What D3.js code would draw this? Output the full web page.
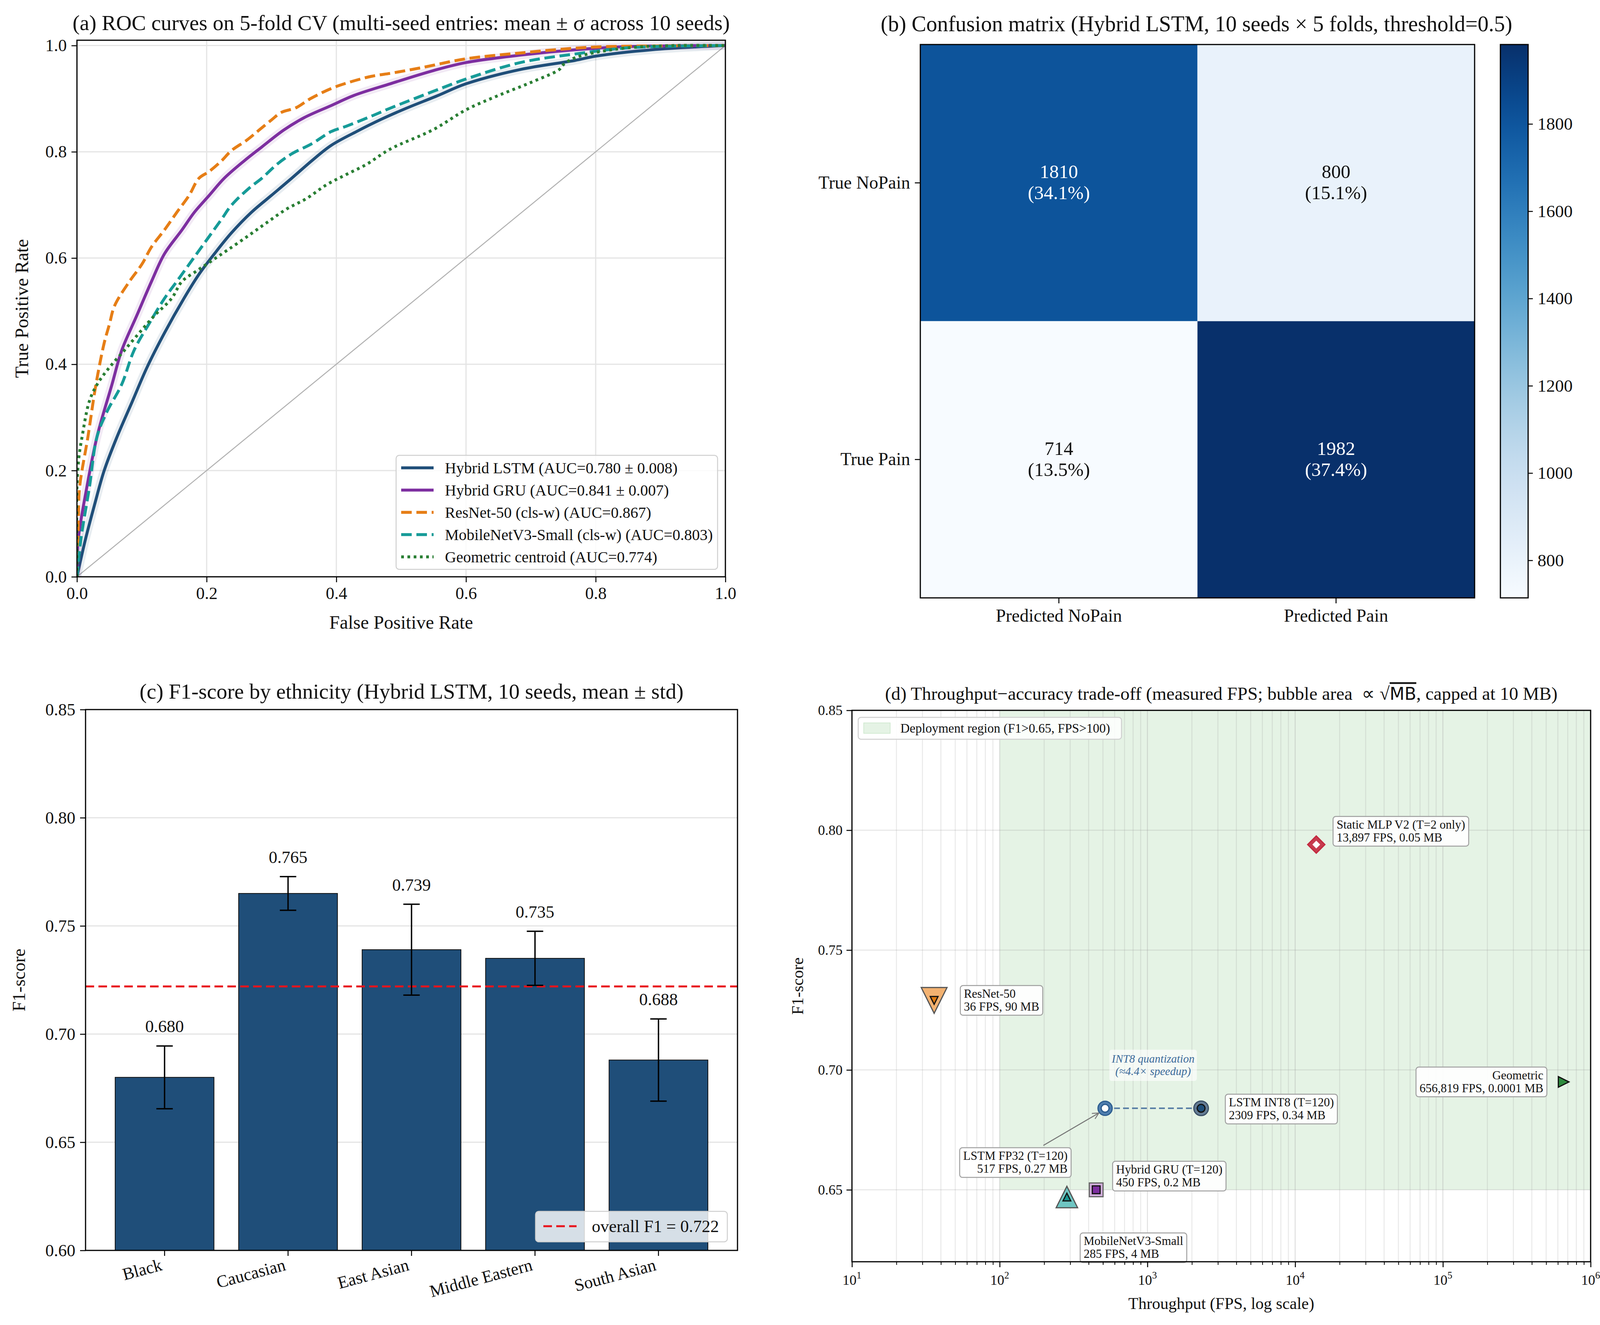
<!DOCTYPE html>
<html>
<head>
<meta charset="utf-8">
<script src="https://cdn.jsdelivr.net/npm/d3@7"></script>
<style>
  body { margin: 0; background: #fff; }
  svg { display: block; }
</style>
</head>
<body>
<div id="chart"></div>
<script>
const W = 4135, H = 3393;
const FONT = '"Liberation Serif", "Times New Roman", serif';

// ---- (a) ROC curves : points ----
const lstmFpr = [0, 0.013, 0.027, 0.042, 0.062, 0.085, 0.108, 0.135, 0.165, 0.188, 0.212, 0.238, 0.269, 0.30, 0.331, 0.362, 0.392, 0.431, 0.469, 0.508, 0.555, 0.60, 0.684, 0.768, 0.80, 0.886, 1.0];
const lstmTpr = [0, 0.07, 0.135, 0.20, 0.264, 0.329, 0.394, 0.459, 0.524, 0.569, 0.608, 0.647, 0.686, 0.718, 0.75, 0.783, 0.812, 0.838, 0.861, 0.882, 0.905, 0.928, 0.955, 0.972, 0.98, 0.992, 1.0];
const gruFpr = [0, 0.002, 0.015, 0.031, 0.054, 0.069, 0.092, 0.115, 0.135, 0.162, 0.181, 0.204, 0.227, 0.258, 0.285, 0.319, 0.35, 0.392, 0.427, 0.483, 0.55, 0.60, 0.684, 0.768, 0.852, 1.0];
const gruTpr = [0, 0.07, 0.167, 0.264, 0.362, 0.426, 0.491, 0.556, 0.608, 0.653, 0.686, 0.718, 0.75, 0.783, 0.809, 0.841, 0.864, 0.887, 0.906, 0.928, 0.953, 0.968, 0.982, 0.992, 0.998, 1.0];
const resnetFpr = [0, 0.002, 0.004, 0.017, 0.029, 0.042, 0.050, 0.058, 0.081, 0.10, 0.115, 0.135, 0.154, 0.173, 0.188, 0.204, 0.223, 0.238, 0.262, 0.281, 0.30, 0.315, 0.338, 0.36, 0.392, 0.415, 0.454, 0.485, 0.53, 0.60, 0.684, 0.768, 0.818, 1.0];
const resnetTpr = [0, 0.09, 0.167, 0.264, 0.36, 0.440, 0.475, 0.51, 0.556, 0.588, 0.621, 0.653, 0.686, 0.718, 0.75, 0.763, 0.783, 0.802, 0.822, 0.841, 0.86, 0.874, 0.883, 0.90, 0.919, 0.929, 0.942, 0.948, 0.958, 0.975, 0.986, 0.995, 0.998, 1.0];
const mobileFpr = [0, 0.006, 0.019, 0.031, 0.046, 0.069, 0.088, 0.112, 0.135, 0.154, 0.177, 0.20, 0.223, 0.238, 0.265, 0.285, 0.308, 0.331, 0.362, 0.392, 0.415, 0.454, 0.483, 0.55, 0.60, 0.684, 0.768, 0.852, 1.0];
const mobileTpr = [0, 0.07, 0.167, 0.264, 0.31, 0.362, 0.426, 0.478, 0.524, 0.556, 0.595, 0.634, 0.673, 0.699, 0.731, 0.75, 0.776, 0.796, 0.815, 0.838, 0.848, 0.867, 0.882, 0.914, 0.937, 0.968, 0.984, 0.996, 1.0];
const geoFpr = [0, 0, 0.003, 0.008, 0.019, 0.031, 0.05, 0.073, 0.096, 0.119, 0.146, 0.162, 0.185, 0.208, 0.231, 0.262, 0.292, 0.323, 0.354, 0.385, 0.415, 0.446, 0.483, 0.55, 0.60, 0.65, 0.701, 0.744, 0.751, 0.768, 0.80, 0.852, 0.92, 1.0];
const geoTpr = [0, 0.167, 0.225, 0.264, 0.33, 0.362, 0.394, 0.426, 0.459, 0.491, 0.524, 0.556, 0.576, 0.595, 0.614, 0.64, 0.666, 0.692, 0.712, 0.738, 0.757, 0.776, 0.805, 0.842, 0.879, 0.906, 0.931, 0.955, 0.965, 0.977, 0.987, 0.996, 1.0, 1.0];
const rocLabels = [
  'Hybrid LSTM (AUC=0.780 \u00b1 0.008)',
  'Hybrid GRU (AUC=0.841 \u00b1 0.007)',
  'ResNet-50 (cls-w) (AUC=0.867)',
  'MobileNetV3-Small (cls-w) (AUC=0.803)',
  'Geometric centroid (AUC=0.774)'
];
const rocTicks = [0, 0.2, 0.4, 0.6, 0.8, 1.0];

// ---- (b) confusion matrix ----
const cmRows = ['True NoPain', 'True Pain'];
const cmCols = ['Predicted NoPain', 'Predicted Pain'];
const cmCounts = [1810, 800, 714, 1982]; // row-major
const cbarTicks = [800, 1000, 1200, 1400, 1600, 1800];

// ---- (c) F1 by ethnicity ----
const ethnicities = ['Black', 'Caucasian', 'East Asian', 'Middle Eastern', 'South Asian'];
const f1Mean = [0.680, 0.765, 0.739, 0.735, 0.688];
const f1Std = [0.0145, 0.0078, 0.021, 0.0125, 0.019];
const overallF1 = 0.722;
const f1Ticks = [0.60, 0.65, 0.70, 0.75, 0.80, 0.85];

// ---- (d) throughput vs accuracy ----
const modelNames = ['ResNet-50', 'MobileNetV3-Small', 'Hybrid GRU (T=120)', 'LSTM FP32 (T=120)', 'LSTM INT8 (T=120)', 'Static MLP V2 (T=2 only)', 'Geometric'];
const modelFps = [36, 285, 450, 517, 2309, 13897, 656819];
const modelF1 = [0.729, 0.647, 0.650, 0.684, 0.684, 0.794, 0.695];
const modelMb = [90, 4, 0.2, 0.27, 0.34, 0.05, 0.0001];
const modelInfo = ['36 FPS, 90 MB', '285 FPS, 4 MB', '450 FPS, 0.2 MB', '517 FPS, 0.27 MB', '2309 FPS, 0.34 MB', '13,897 FPS, 0.05 MB', '656,819 FPS, 0.0001 MB'];
const f1TicksD = [0.65, 0.70, 0.75, 0.80, 0.85];
const fpsDecades = [10, 100, 1000, 10000, 100000, 1000000];

const svg = d3.select('#chart').append('svg')
  .attr('width', W).attr('height', H)
  .attr('font-family', FONT);
svg.append('rect').attr('width', W).attr('height', H).attr('fill', '#fff');
const defs = svg.append('defs');

function styleAxis(g, size) {
  g.attr('font-family', FONT).attr('font-size', size);
  g.select('.domain').remove();
  g.selectAll('.tick line').attr('stroke', '#000').attr('stroke-width', 2.5);
  g.selectAll('.tick text').attr('fill', '#111');
}

function frame(g, x0, y0, x1, y1) {
  g.append('rect').attr('x', x0).attr('y', y0)
    .attr('width', x1 - x0).attr('height', y1 - y0)
    .attr('fill', 'none').attr('stroke', '#000').attr('stroke-width', 3);
}

/**
 * (a) ROC curves
 */
function drawRoc() {
  const g = svg.append('g');
  const x = d3.scaleLinear().domain([0, 1]).range([197, 1857]);
  const y = d3.scaleLinear().domain([0, 1.01]).range([1477, 103]);

  g.append('g').selectAll('line').data(rocTicks).join('line')
    .attr('x1', d => x(d)).attr('x2', d => x(d)).attr('y1', y(1.01)).attr('y2', y(0))
    .attr('stroke', '#e4e4e4').attr('stroke-width', 3);
  g.append('g').selectAll('line').data(rocTicks).join('line')
    .attr('y1', d => y(d)).attr('y2', d => y(d)).attr('x1', x(0)).attr('x2', x(1))
    .attr('stroke', '#e4e4e4').attr('stroke-width', 3);

  g.append('line')
    .attr('x1', x(0)).attr('y1', y(0)).attr('x2', x(1)).attr('y2', y(1))
    .attr('stroke', '#b0b0b0').attr('stroke-width', 2.5);

  const series = [
    { fpr: lstmFpr, tpr: lstmTpr, color: '#1f4e79', dash: null, band: true },
    { fpr: gruFpr, tpr: gruTpr, color: '#7d2ea0', dash: null, band: true },
    { fpr: resnetFpr, tpr: resnetTpr, color: '#e67e16', dash: '27,12', band: false },
    { fpr: mobileFpr, tpr: mobileTpr, color: '#169b98', dash: '27,12', band: false },
    { fpr: geoFpr, tpr: geoTpr, color: '#2a7f34', dash: '7,9', band: false }
  ];
  const line = d3.line().x(d => x(d[0])).y(d => y(d[1])).curve(d3.curveCatmullRom.alpha(0.5));

  defs.append('clipPath').attr('id', 'clipRoc').append('rect')
    .attr('x', x(0)).attr('y', y(1.01)).attr('width', x(1) - x(0)).attr('height', y(0) - y(1.01));
  const cg = g.append('g').attr('clip-path', 'url(#clipRoc)');

  series.forEach(s => {
    const pts = s.fpr.map((f, i) => [f, s.tpr[i]]);
    if (s.band) {
      cg.append('path').attr('d', line(pts)).attr('fill', 'none')
        .attr('stroke', s.color).attr('stroke-opacity', 0.1)
        .attr('stroke-width', 22).attr('stroke-linejoin', 'round');
    }
    cg.append('path').attr('d', line(pts)).attr('fill', 'none')
      .attr('stroke', s.color).attr('stroke-width', 7.5)
      .attr('stroke-dasharray', s.dash)
      .attr('stroke-linejoin', 'round');
  });

  const xa = g.append('g').attr('transform', `translate(0,${y(0)})`)
    .call(d3.axisBottom(x).tickValues(rocTicks).tickFormat(d3.format('.1f')).tickSize(14).tickPadding(12));
  styleAxis(xa, 44);
  const ya = g.append('g').attr('transform', `translate(${x(0)},0)`)
    .call(d3.axisLeft(y).tickValues(rocTicks).tickFormat(d3.format('.1f')).tickSize(14).tickPadding(12));
  styleAxis(ya, 44);
  frame(g, x(0), y(1.01), x(1), y(0));

  g.append('text').attr('x', (x(0) + x(1)) / 2).attr('y', 1610)
    .attr('text-anchor', 'middle').attr('font-size', 48).attr('fill', '#111').text('False Positive Rate');
  g.append('text').attr('transform', `translate(72,${(y(0) + y(1.01)) / 2}) rotate(-90)`)
    .attr('text-anchor', 'middle').attr('font-size', 48).attr('fill', '#111').text('True Positive Rate');
  g.append('text').attr('x', (x(0) + x(1)) / 2).attr('y', 77)
    .attr('text-anchor', 'middle').attr('font-size', 55).attr('fill', '#111')
    .text('(a) ROC curves on 5-fold CV (multi-seed entries: mean \u00b1 \u03c3 across 10 seeds)');

  // legend
  const lg = g.append('g').attr('transform', 'translate(1014,1166)');
  lg.append('rect').attr('width', 823).attr('height', 292).attr('rx', 8)
    .attr('fill', '#fff').attr('fill-opacity', 0.85).attr('stroke', '#cfcfcf').attr('stroke-width', 2.5);
  series.forEach((s, i) => {
    const cy = 32 + i * 57;
    lg.append('line').attr('x1', 13).attr('x2', 96).attr('y1', cy).attr('y2', cy)
      .attr('stroke', s.color).attr('stroke-width', 7.5).attr('stroke-dasharray', s.dash);
    lg.append('text').attr('x', 125).attr('y', cy + 14).attr('font-size', 40).attr('fill', '#111')
      .text(rocLabels[i]);
  });
}

/**
 * (b) Confusion matrix + colorbar
 */
function drawConfusion() {
  const g = svg.append('g');
  const x = d3.scaleBand().domain(cmCols).range([2356, 3775]);
  const y = d3.scaleBand().domain(cmRows).range([114, 1531]);
  const vmin = d3.min(cmCounts), vmax = d3.max(cmCounts);
  const color = d3.scaleSequential(d3.interpolateBlues).domain([vmin, vmax]);
  const total = d3.sum(cmCounts);
  const cells = cmCounts.map((v, i) => ({ v, row: cmRows[Math.floor(i / 2)], col: cmCols[i % 2] }));

  g.selectAll('rect.cell').data(cells).join('rect')
    .attr('x', d => x(d.col)).attr('y', d => y(d.row))
    .attr('width', x.bandwidth()).attr('height', y.bandwidth())
    .attr('fill', d => color(d.v));

  const labels = g.selectAll('text.cell').data(cells).join('text')
    .attr('text-anchor', 'middle').attr('font-size', 49)
    .attr('fill', d => (d.v - vmin) / (vmax - vmin) > 0.5 ? '#fff' : '#111');
  labels.append('tspan').attr('x', d => x(d.col) + x.bandwidth() / 2)
    .attr('y', d => y(d.row) + y.bandwidth() / 2 - 12).text(d => d.v);
  labels.append('tspan').attr('x', d => x(d.col) + x.bandwidth() / 2)
    .attr('y', d => y(d.row) + y.bandwidth() / 2 + 42)
    .text(d => `(${(100 * d.v / total).toFixed(1)}%)`);

  const xa = g.append('g').attr('transform', 'translate(0,1531)')
    .call(d3.axisBottom(x).tickSize(14).tickPadding(14));
  styleAxis(xa, 46);
  const ya = g.append('g').attr('transform', 'translate(2356,0)')
    .call(d3.axisLeft(y).tickSize(14).tickPadding(12));
  styleAxis(ya, 46);
  frame(g, 2356, 114, 3775, 1531);

  g.append('text').attr('x', 3063).attr('y', 80).attr('text-anchor', 'middle')
    .attr('font-size', 56).attr('fill', '#111')
    .text('(b) Confusion matrix (Hybrid LSTM, 10 seeds \u00d7 5 folds, threshold=0.5)');

  // colorbar
  const cy = d3.scaleLinear().domain([vmin, vmax]).range([1531, 114]);
  const grad = defs.append('linearGradient').attr('id', 'cbar')
    .attr('x1', 0).attr('y1', 1).attr('x2', 0).attr('y2', 0);
  d3.range(0, 1.0001, 0.05).forEach(t => {
    grad.append('stop').attr('offset', t).attr('stop-color', d3.interpolateBlues(t));
  });
  g.append('rect').attr('x', 3841).attr('y', 114).attr('width', 71).attr('height', 1417)
    .attr('fill', 'url(#cbar)');
  const ca = g.append('g').attr('transform', 'translate(3912,0)')
    .call(d3.axisRight(cy).tickValues(cbarTicks).tickFormat(d3.format('d')).tickSize(12).tickPadding(12));
  styleAxis(ca, 45);
  frame(g, 3841, 114, 3912, 1531);
}

/**
 * (c) F1 by ethnicity
 */
function drawEthnicity() {
  const g = svg.append('g');
  const x = d3.scaleBand().domain(ethnicities).range([219, 1888]).paddingInner(0.2).paddingOuter(0.24);
  const y = d3.scaleLinear().domain([0.60, 0.85]).range([3202, 1817]);

  g.append('g').selectAll('line').data(f1Ticks.slice(1, -1)).join('line')
    .attr('x1', 219).attr('x2', 1888).attr('y1', d => y(d)).attr('y2', d => y(d))
    .attr('stroke', '#e4e4e4').attr('stroke-width', 3);

  g.selectAll('rect.bar').data(ethnicities).join('rect')
    .attr('x', d => x(d)).attr('width', x.bandwidth())
    .attr('y', (d, i) => y(f1Mean[i])).attr('height', (d, i) => y(0.60) - y(f1Mean[i]))
    .attr('fill', '#1f4e79').attr('stroke', '#111').attr('stroke-width', 2);

  // overall line (drawn over bars)
  g.append('line').attr('x1', 219).attr('x2', 1888).attr('y1', y(overallF1)).attr('y2', y(overallF1))
    .attr('stroke', '#e8141c').attr('stroke-width', 5).attr('stroke-dasharray', '22,11');

  const eb = g.append('g').attr('stroke', '#000').attr('stroke-width', 3.5);
  ethnicities.forEach((e, i) => {
    const cx = x(e) + x.bandwidth() / 2;
    const lo = y(f1Mean[i] - f1Std[i]), hi = y(f1Mean[i] + f1Std[i]);
    eb.append('line').attr('x1', cx).attr('x2', cx).attr('y1', lo).attr('y2', hi);
    eb.append('line').attr('x1', cx - 21).attr('x2', cx + 21).attr('y1', lo).attr('y2', lo);
    eb.append('line').attr('x1', cx - 21).attr('x2', cx + 21).attr('y1', hi).attr('y2', hi);
    g.append('text').attr('x', cx).attr('y', hi - 35).attr('text-anchor', 'middle')
      .attr('font-size', 44).attr('fill', '#111').text(f1Mean[i].toFixed(3));
  });

  const xa = g.append('g').attr('transform', 'translate(0,3202)')
    .call(d3.axisBottom(x).tickSize(14).tickPadding(10));
  styleAxis(xa, 44);
  xa.selectAll('.tick text').attr('text-anchor', 'end')
    .attr('transform', 'translate(-4,50) rotate(-15)').attr('dy', 0).attr('y', 0);
  const ya = g.append('g').attr('transform', 'translate(219,0)')
    .call(d3.axisLeft(y).tickValues(f1Ticks).tickFormat(d3.format('.2f')).tickSize(14).tickPadding(12));
  styleAxis(ya, 44);
  frame(g, 219, 1817, 1888, 3202);

  g.append('text').attr('transform', `translate(64,${(1817 + 3202) / 2}) rotate(-90)`)
    .attr('text-anchor', 'middle').attr('font-size', 46).attr('fill', '#111').text('F1-score');
  g.append('text').attr('x', (219 + 1888) / 2).attr('y', 1789).attr('text-anchor', 'middle')
    .attr('font-size', 55).attr('fill', '#111')
    .text('(c) F1-score by ethnicity (Hybrid LSTM, 10 seeds, mean \u00b1 std)');

  const lg = g.append('g').attr('transform', 'translate(1371,3102)');
  lg.append('rect').attr('width', 491).attr('height', 78).attr('rx', 8)
    .attr('fill', '#fff').attr('fill-opacity', 0.82).attr('stroke', '#cfcfcf').attr('stroke-width', 2.5);
  lg.append('line').attr('x1', 20).attr('x2', 105).attr('y1', 38).attr('y2', 38)
    .attr('stroke', '#e8141c').attr('stroke-width', 5).attr('stroke-dasharray', '22,11');
  lg.append('text').attr('x', 144).attr('y', 53).attr('font-size', 44).attr('fill', '#111')
    .text(`overall F1 = ${overallF1.toFixed(3)}`);
}

/**
 * (d) Throughput vs F1 bubble chart
 */
function shapePath(shape, w) {
  const h = w / 2;
  let pts;
  if (shape === 'circle') {
    return `M${-h},0A${h},${h} 0 1,0 ${h},0A${h},${h} 0 1,0 ${-h},0Z`;
  }
  if (shape === 'down') pts = [[-h, -h], [h, -h], [0, h]];
  if (shape === 'up') pts = [[-h, h], [h, h], [0, -h]];
  if (shape === 'right') pts = [[-h, -h], [-h, h], [h, 0]];
  if (shape === 'square') pts = [[-h, -h], [h, -h], [h, h], [-h, h]];
  if (shape === 'diamond') { const d = h * 1.41; pts = [[0, -d], [d, 0], [0, d], [-d, 0]]; }
  return 'M' + pts.map(p => p.join(',')).join('L') + 'Z';
}

function drawTradeoff() {
  const g = svg.append('g');
  const x = d3.scaleLog().domain([10, 1e6]).range([2181, 4072]);
  const y = d3.scaleLinear().domain([0.62, 0.85]).range([3231, 1819]);
  const area = d3.scaleLinear().domain([0, Math.sqrt(10)]).range([729, 4356]);

  // marker styles per model (same order as the data arrays)
  const styles = [
    { shape: 'down', outer: '#f2aa62', inner: '#e07a10', innerStroke: '#111', edge: '#555', lx: 66, ly: -38, align: 'start' },
    { shape: 'up', outer: '#5fc0bc', inner: '#18948f', innerStroke: '#111', edge: '#555', lx: 33, ly: 92, align: 'start' },
    { shape: 'square', outer: '#cfa6dc', inner: '#7d2ea0', innerStroke: '#111', edge: '#666', lx: 41, ly: -73, align: 'start' },
    { shape: 'circle', outer: '#3f72a8', inner: '#fff', innerStroke: '#2b5c8f', edge: '#2b5c8f', lx: -86, ly: 101, align: 'end' },
    { shape: 'circle', outer: '#56708c', inner: '#1f4e79', innerStroke: '#111', edge: '#3a4f66', lx: 61, ly: -36, align: 'start' },
    { shape: 'diamond', outer: '#c3283e', inner: '#fff', innerStroke: 'none', edge: '#c3283e', lx: 42, ly: -72, align: 'start' },
    { shape: 'right', outer: '#2e8b3e', inner: null, innerStroke: null, edge: '#111', lx: -42, ly: -38, align: 'end' }
  ];

  // deployment region
  g.append('rect').attr('x', x(100)).attr('y', y(0.85))
    .attr('width', x(1e6) - x(100)).attr('height', y(0.65) - y(0.85))
    .attr('fill', '#2ca02c').attr('fill-opacity', 0.12);

  // grid (minor + major)
  const minor = [];
  fpsDecades.slice(0, -1).forEach(d => { for (let k = 2; k <= 9; k++) minor.push(d * k); });
  g.append('g').selectAll('line').data(minor).join('line')
    .attr('x1', d => x(d)).attr('x2', d => x(d)).attr('y1', y(0.85)).attr('y2', y(0.62))
    .attr('stroke', '#999').attr('stroke-opacity', 0.22).attr('stroke-width', 2.5);
  g.append('g').selectAll('line').data(fpsDecades).join('line')
    .attr('x1', d => x(d)).attr('x2', d => x(d)).attr('y1', y(0.85)).attr('y2', y(0.62))
    .attr('stroke', '#999').attr('stroke-opacity', 0.3).attr('stroke-width', 2.5);
  g.append('g').selectAll('line').data(f1TicksD).join('line')
    .attr('x1', x(10)).attr('x2', x(1e6)).attr('y1', d => y(d)).attr('y2', d => y(d))
    .attr('stroke', '#999').attr('stroke-opacity', 0.25).attr('stroke-width', 2.5);

  // FP32 -> INT8 connection
  g.append('line').attr('x1', x(modelFps[3])).attr('x2', x(modelFps[4]))
    .attr('y1', y(modelF1[3])).attr('y2', y(modelF1[4]))
    .attr('stroke', '#5a80a6').attr('stroke-width', 4).attr('stroke-dasharray', '15,8');

  const mx = i => x(modelFps[i]), my = i => y(modelF1[i]);

  // bubbles
  modelNames.forEach((n, i) => {
    const s = styles[i];
    const w = Math.sqrt(area(Math.sqrt(Math.min(modelMb[i], 10))));
    const mg = g.append('g').attr('transform', `translate(${mx(i)},${my(i)})`);
    mg.append('path').attr('d', shapePath(s.shape, w))
      .attr('fill', s.outer).attr('fill-opacity', s.inner ? 0.9 : 1)
      .attr('stroke', s.edge).attr('stroke-width', 3);
    if (s.inner) {
      const iw = s.shape === 'diamond' ? w * 0.45 : 20;
      mg.append('path').attr('d', shapePath(s.shape, iw))
        .attr('fill', s.inner).attr('stroke', s.innerStroke).attr('stroke-width', 3);
    }
  });

  // annotation boxes
  modelNames.forEach((n, i) => {
    const s = styles[i];
    const ag = g.append('g').attr('transform', `translate(${mx(i) + s.lx},${my(i) + s.ly})`);
    const box = ag.append('rect').attr('rx', 7)
      .attr('fill', '#fff').attr('fill-opacity', 0.92).attr('stroke', '#a0a0a0').attr('stroke-width', 2.5);
    const t = ag.append('text').attr('font-size', 31).attr('fill', '#111').attr('text-anchor', s.align);
    const tx = s.align === 'start' ? 10 : -10;
    t.append('tspan').attr('x', tx).attr('y', 31).text(n);
    t.append('tspan').attr('x', tx).attr('y', 64).text(modelInfo[i]);
    const bb = t.node().getBBox();
    box.attr('x', bb.x - 9).attr('y', 0).attr('width', bb.width + 18).attr('height', 76);
  });

  // arrow from FP32 label to its marker
  defs.append('marker').attr('id', 'arrowhead')
    .attr('viewBox', '0 0 10 10').attr('refX', 9).attr('refY', 5)
    .attr('markerWidth', 8).attr('markerHeight', 8).attr('orient', 'auto')
    .append('path').attr('d', 'M1,1L9,5L1,9').attr('fill', 'none').attr('stroke', '#777').attr('stroke-width', 1.2);
  g.append('line').attr('x1', mx(3) - 158).attr('y1', my(3) + 95)
    .attr('x2', mx(3) - 16).attr('y2', my(3) + 12)
    .attr('stroke', '#777').attr('stroke-width', 2.5).attr('marker-end', 'url(#arrowhead)');

  // INT8 note
  const nx = (mx(3) + mx(4)) / 2, ny = my(3);
  g.append('rect').attr('x', nx - 112).attr('y', ny - 150).attr('width', 224).attr('height', 80)
    .attr('rx', 6).attr('fill', '#fff').attr('fill-opacity', 0.6);
  const note = g.append('text').attr('text-anchor', 'middle').attr('font-size', 29)
    .attr('font-style', 'italic').attr('fill', '#3b6a9a');
  note.append('tspan').attr('x', nx).attr('y', ny - 117).text('INT8 quantization');
  note.append('tspan').attr('x', nx).attr('y', ny - 85).text('(\u22484.4\u00d7 speedup)');

  // axes
  const xa = g.append('g').attr('transform', 'translate(0,3231)')
    .call(d3.axisBottom(x).tickValues(fpsDecades).tickFormat('').tickSize(14));
  styleAxis(xa, 36);
  const xm = g.append('g').attr('transform', 'translate(0,3231)')
    .call(d3.axisBottom(x).tickValues(minor).tickFormat('').tickSize(8));
  styleAxis(xm, 36);
  xm.selectAll('.tick line').attr('stroke-width', 2);
  fpsDecades.forEach(d => {
    const t = g.append('text').attr('x', x(d)).attr('y', 3290).attr('text-anchor', 'middle')
      .attr('font-size', 36).attr('fill', '#111');
    t.append('tspan').text('10');
    t.append('tspan').attr('dy', -16).attr('font-size', 25).text(Math.round(Math.log10(d)));
  });
  const ya = g.append('g').attr('transform', 'translate(2181,0)')
    .call(d3.axisLeft(y).tickValues(f1TicksD).tickFormat(d3.format('.2f')).tickSize(14).tickPadding(10));
  styleAxis(ya, 36);
  frame(g, 2181, 1819, 4072, 3231);

  g.append('text').attr('x', (2181 + 4072) / 2).attr('y', 3352).attr('text-anchor', 'middle')
    .attr('font-size', 42).attr('fill', '#111').text('Throughput (FPS, log scale)');
  g.append('text').attr('transform', `translate(2056,${(1819 + 3231) / 2}) rotate(-90)`)
    .attr('text-anchor', 'middle').attr('font-size', 42).attr('fill', '#111').text('F1-score');

  const title = g.append('text').attr('x', (2181 + 4072) / 2).attr('y', 1792).attr('text-anchor', 'middle')
    .attr('font-size', 47).attr('fill', '#111');
  title.append('tspan').text('(d) Throughput\u2212accuracy trade-off (measured FPS; bubble area \u00a0\u221d \u221a');
  title.append('tspan').attr('font-family', '"DejaVu Sans", sans-serif').attr('font-size', 44)
    .attr('text-decoration', 'overline').text('MB');
  title.append('tspan').text(', capped at 10 MB)');

  // legend
  const lg = g.append('g').attr('transform', 'translate(2197,1837)');
  lg.append('rect').attr('width', 674).attr('height', 56).attr('rx', 7)
    .attr('fill', '#fff').attr('fill-opacity', 0.85).attr('stroke', '#cfcfcf').attr('stroke-width', 2.5);
  lg.append('rect').attr('x', 14).attr('y', 14).attr('width', 68).attr('height', 27)
    .attr('fill', '#2ca02c').attr('fill-opacity', 0.12).attr('stroke', '#2ca02c').attr('stroke-opacity', 0.15).attr('stroke-width', 2);
  lg.append('text').attr('x', 108).attr('y', 39).attr('font-size', 33).attr('fill', '#111')
    .text('Deployment region (F1>0.65, FPS>100)');
}

drawRoc();
drawConfusion();
drawEthnicity();
drawTradeoff();
</script>
</body>
</html>
